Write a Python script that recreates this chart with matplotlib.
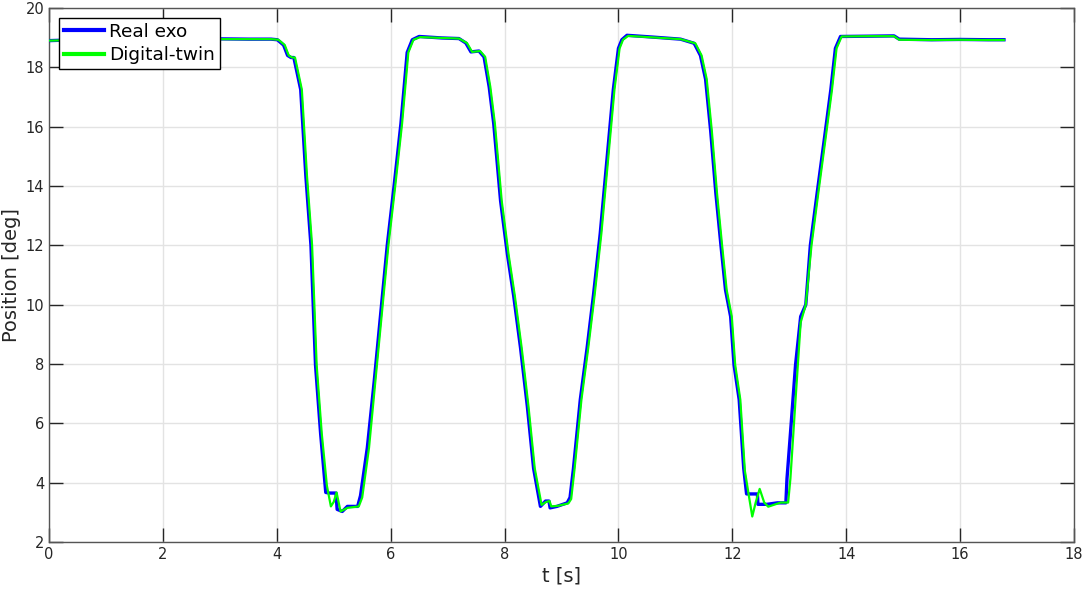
import matplotlib
matplotlib.use("Agg")
import matplotlib.pyplot as plt

# Real exoskeleton position (deg) vs time (s)
t_real = [0.0, 0.5, 1.0, 1.5, 2.0, 2.5, 3.0, 3.5, 3.9, 4.01, 4.12, 4.19, 4.25, 4.30, 4.33,
          4.42, 4.51, 4.60, 4.68, 4.77, 4.86, 4.92, 5.04, 5.06, 5.15, 5.24, 5.42, 5.47,
          5.59, 5.71, 5.82, 5.94, 6.06, 6.18, 6.29, 6.38, 6.50, 6.90, 7.20, 7.32, 7.41,
          7.55, 7.64, 7.73, 7.81, 7.93, 8.05, 8.16, 8.28, 8.40, 8.51, 8.63, 8.72, 8.78,
          8.80, 8.92, 9.10, 9.15, 9.21, 9.33, 9.45, 9.56, 9.68, 9.80, 9.91, 10.00, 10.06,
          10.15, 10.60, 11.09, 11.33, 11.44, 11.53, 11.62, 11.71, 11.80, 11.88, 11.97,
          12.03, 12.12, 12.20, 12.25, 12.44, 12.45, 12.61, 12.79, 12.94, 12.96, 13.02,
          13.11, 13.20, 13.29, 13.37, 13.49, 13.61, 13.73, 13.81, 13.90, 14.40, 14.84,
          14.93, 15.50, 16.00, 16.50, 16.77]
y_real = [18.9, 18.93, 18.92, 18.94, 18.93, 18.95, 18.96, 18.95, 18.95, 18.93, 18.75, 18.4,
          18.33, 18.33, 18.06, 17.25, 14.35, 12.0, 7.97, 5.65, 3.67, 3.65, 3.65, 3.1,
          3.03, 3.2, 3.2, 3.56, 5.18, 7.4, 9.6, 12.0, 14.0, 16.1, 18.5, 18.93, 19.04,
          18.99, 18.97, 18.82, 18.52, 18.55, 18.35, 17.34, 16.1, 13.5, 11.7, 10.3, 8.55,
          6.57, 4.48, 3.2, 3.38, 3.38, 3.15, 3.2, 3.32, 3.5, 4.48, 6.8, 8.55, 10.3, 12.4,
          14.93, 17.25, 18.64, 18.93, 19.08, 19.02, 18.95, 18.81, 18.4, 17.6, 15.85,
          13.77, 12.0, 10.5, 9.6, 7.97, 6.8, 4.48, 3.62, 3.62, 3.27, 3.27, 3.32, 3.32,
          4.14, 5.65, 7.97, 9.6, 10.0, 12.0, 13.77, 15.5, 17.25, 18.64, 19.04, 19.05,
          19.06, 18.95, 18.93, 18.94, 18.93, 18.93]

# Digital-twin position (deg) vs time (s)
t_twin = [0.0, 0.5, 1.0, 1.5, 2.0, 2.5, 3.0, 3.5, 3.9, 4.03, 4.14, 4.21, 4.27, 4.32, 4.35,
          4.44, 4.53, 4.62, 4.70, 4.79, 4.88, 4.95, 5.00, 5.05, 5.12, 5.24, 5.44, 5.50,
          5.62, 5.73, 5.84, 5.96, 6.08, 6.20, 6.31, 6.40, 6.52, 6.90, 7.20, 7.34, 7.43,
          7.57, 7.66, 7.75, 7.83, 7.95, 8.07, 8.18, 8.30, 8.42, 8.53, 8.65, 8.73, 8.79,
          8.82, 8.94, 9.12, 9.17, 9.23, 9.35, 9.47, 9.58, 9.70, 9.82, 9.93, 10.02, 10.08,
          10.17, 10.60, 11.09, 11.35, 11.46, 11.55, 11.64, 11.73, 11.82, 11.90, 11.99,
          12.05, 12.14, 12.22, 12.29, 12.35, 12.41, 12.48, 12.56, 12.63, 12.85, 12.98,
          13.02, 13.11, 13.20, 13.29, 13.39, 13.51, 13.63, 13.75, 13.83, 13.92, 14.40,
          14.84, 14.93, 15.50, 16.00, 16.50, 16.77]
y_twin = [18.9, 18.92, 18.93, 18.93, 18.94, 18.94, 18.95, 18.95, 18.95, 18.93, 18.75, 18.4,
          18.33, 18.33, 18.06, 17.25, 14.35, 12.0, 7.97, 5.65, 3.9, 3.2, 3.35, 3.67,
          3.03, 3.15, 3.2, 3.5, 5.18, 7.4, 9.6, 12.0, 14.0, 16.1, 18.5, 18.93, 19.02,
          18.99, 18.97, 18.82, 18.52, 18.55, 18.35, 17.34, 16.1, 13.5, 11.7, 10.3, 8.55,
          6.57, 4.48, 3.25, 3.35, 3.38, 3.2, 3.22, 3.3, 3.45, 4.48, 6.8, 8.55, 10.3, 12.4,
          14.93, 17.25, 18.64, 18.93, 19.06, 19.01, 18.95, 18.81, 18.4, 17.6, 15.85,
          13.77, 12.0, 10.5, 9.6, 7.97, 6.8, 4.4, 3.56, 2.86, 3.33, 3.79, 3.33, 3.19,
          3.33, 3.33, 4.14, 6.8, 9.4, 10.0, 12.0, 13.77, 15.5, 17.25, 18.64, 19.04,
          19.05, 19.05, 18.93, 18.92, 18.93, 18.92, 18.92]

series_labels = ["Real exo", "Digital-twin"]
x_ticks = [0, 2, 4, 6, 8, 10, 12, 14, 16, 18]
y_ticks = [2, 4, 6, 8, 10, 12, 14, 16, 18, 20]

fig = plt.figure(figsize=(10.84, 5.89), dpi=100)
ax = fig.add_axes([49 / 1084, 1 - 542 / 589, (1074 - 49) / 1084, (542 - 8) / 589])

ax.plot(t_real, y_real, color="#0000ff", lw=2.4, label=series_labels[0], zorder=3)
ax.plot(t_twin, y_twin, color="#00ff00", lw=1.6, label=series_labels[1], zorder=4)

ax.set_xlim(0, 18)
ax.set_ylim(2, 20)
ax.set_xticks(x_ticks)
ax.set_yticks(y_ticks)
ax.grid(True, color="#e3e3e3", lw=1.0, zorder=0)
ax.set_axisbelow(True)
ax.tick_params(direction="in", length=10, width=1, colors="#262626",
               labelsize=10.5, top=True, right=True, labeltop=False, labelright=False)
for s in ax.spines.values():
    s.set_color("#555555")
    s.set_linewidth(1.0)

ax.set_xlabel("t [s]", fontsize=14, color="#262626", labelpad=3)
ax.set_ylabel("Position [deg]", fontsize=14, color="#262626", labelpad=3)

leg = ax.legend(loc="upper left", fontsize=13.3, frameon=True, fancybox=False,
                edgecolor="black", framealpha=1, handlelength=2.2, handletextpad=0.25,
                borderpad=0.25, labelspacing=0.3, borderaxespad=0.55)
leg.get_frame().set_linewidth(1.0)
for line in leg.get_lines():
    line.set_linewidth(3)

fig.savefig("out.png", dpi=100)
